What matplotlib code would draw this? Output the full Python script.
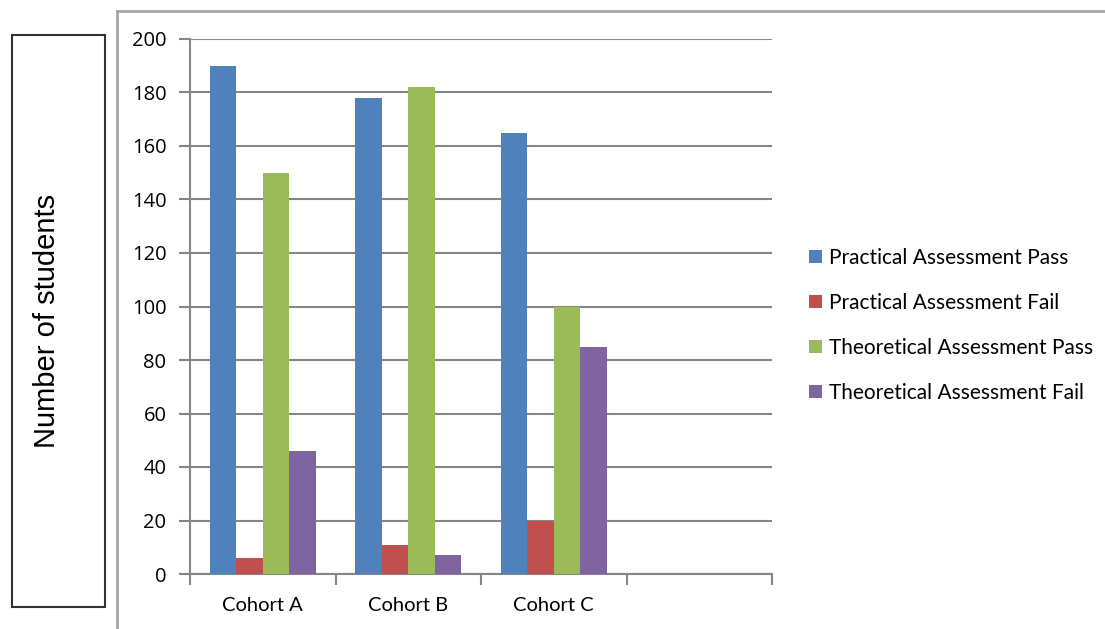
import matplotlib
matplotlib.use("Agg")
import matplotlib.pyplot as plt
import numpy as np
from matplotlib.lines import Line2D
from matplotlib.patches import Rectangle, Patch

categories = ["Cohort A", "Cohort B", "Cohort C", ""]
series_names = ["Practical Assessment Pass", "Practical Assessment Fail",
                "Theoretical Assessment Pass", "Theoretical Assessment Fail"]
practical_pass = [190, 178, 165]
practical_fail = [6, 11, 20]
theoretical_pass = [150, 182, 100]
theoretical_fail = [46, 7, 85]
series_values = [practical_pass, practical_fail, theoretical_pass, theoretical_fail]
colors = ["#4F81BD", "#C0504D", "#9BBB59", "#8064A2"]
y_ticks = [0, 20, 40, 60, 80, 100, 120, 140, 160, 180, 200]

W, H = 1105, 629
fig = plt.figure(figsize=(W / 100, H / 100), dpi=100)
ax = fig.add_axes([190 / W, 1 - 574 / H, (772 - 190) / W, (574 - 39) / H])

font = ["Lato", "DejaVu Sans"]
grid_c = "#868686"
bw = 0.182
n_data = len(practical_pass)
x = np.arange(n_data)
for i, (vals, c) in enumerate(zip(series_values, colors)):
    ax.bar(x + (i - 1.5) * bw, vals, width=bw, color=c, zorder=3, edgecolor="none")

ax.set_xlim(-0.5, len(categories) - 0.5)
ax.set_ylim(0, 200)
ax.set_yticks(y_ticks)
ax.set_yticklabels([str(v) for v in y_ticks], fontsize=14.5, family=["Open Sans", "DejaVu Sans"])
ax.yaxis.grid(True, color=grid_c, linewidth=1.5, zorder=0)
ax.tick_params(axis="y", length=8, width=1.5, color=grid_c, pad=9)
ax.set_xticks(np.arange(len(categories) + 1) - 0.5)
ax.set_xticklabels([])
ax.tick_params(axis="x", length=8, width=1.5, color=grid_c, direction="out")
for i, c in enumerate(categories):
    ax.text(i, -8.5, c, ha="center", va="top", fontsize=14.5, family=font)
for s in ["top", "right"]:
    ax.spines[s].set_visible(False)
for s in ["left", "bottom"]:
    ax.spines[s].set_color(grid_c)
    ax.spines[s].set_linewidth(1.5)

handles = [Patch(facecolor=c, edgecolor="none") for c in colors]
ax.legend(handles, series_names, loc="center left", bbox_to_anchor=(1.031, 0.465),
          frameon=False, prop={"family": font, "size": 15}, labelspacing=1.2,
          handlelength=0.63, handleheight=0.63, handletextpad=0.34)

# outer frame lines
fig.add_artist(Line2D([117 / W, 117 / W], [0, 1 - 11 / H], color="#a6a6a6", linewidth=2,
                      transform=fig.transFigure))
fig.add_artist(Line2D([117 / W, 1], [1 - 11 / H, 1 - 11 / H], color="#a6a6a6", linewidth=2,
                      transform=fig.transFigure))
# y-label box
fig.add_artist(Rectangle((12 / W, 1 - 607 / H), (105 - 12) / W, (607 - 35) / H,
                         fill=False, edgecolor="#333333", linewidth=1.5,
                         transform=fig.transFigure))
fig.text(47 / W, 1 - 321 / H, "Number of students", rotation=90, ha="center", va="center",
         fontsize=21, family=["Liberation Sans", "DejaVu Sans"])

fig.savefig("out.png", dpi=100)
